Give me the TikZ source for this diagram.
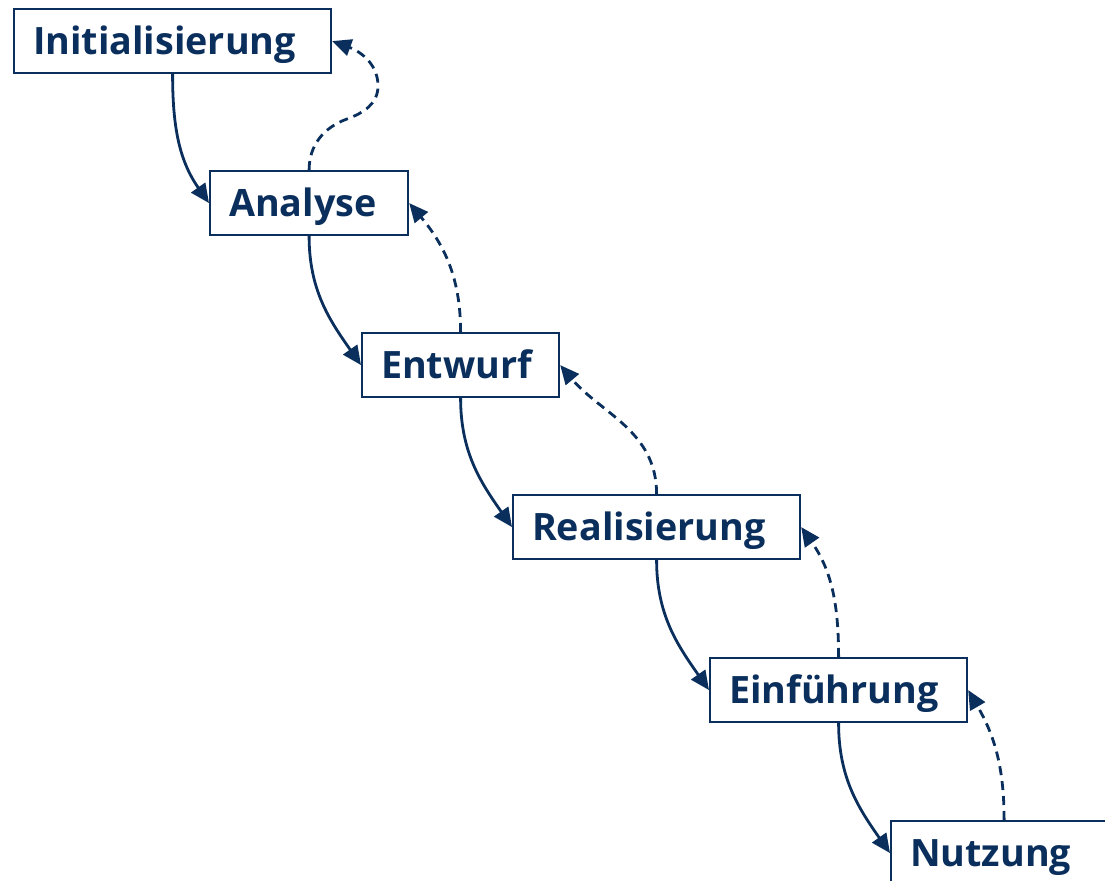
\documentclass[tikz,border=0pt]{standalone}
\usepackage{fontspec}
\setmainfont{Open Sans}
\usetikzlibrary{arrows.meta}
\definecolor{navy}{HTML}{0B2F5C}
\tikzset{
  phase/.style={draw=navy, text=navy, line width=2.2bp, inner xsep=19bp, inner ysep=0pt,
    align=left, text height=27bp, text depth=0pt, minimum height=64bp,
    anchor=north west, font=\fontsize{37.7bp}{44bp}\selectfont\bfseries},
  flow/.style={draw=navy, line width=2.8bp, -{Triangle[length=19bp,width=17bp]}},
  back/.style={flow, dash pattern=on 9bp off 6bp}
}
\begin{document}
\begin{tikzpicture}[x=1bp,y=1bp]
\useasboundingbox (0,0) rectangle (1105,881);
\begin{scope}
\clip (0,0) rectangle (1105,881);
\node[phase, text width=279bp] (init) at (13,873) {Initialisierung};
\node[phase, text width=160bp] (ana) at (209,711) {Analyse};
\node[phase, text width=159bp] (ent) at (361,549) {Entwurf};
\node[phase, text width=249bp] (rea) at (512,387) {Realisierung};
\node[phase, text width=219bp] (ein) at (709,224) {Einführung};
\node[phase, text width=188bp] (nut) at (890,61) {Nutzung};

\draw[flow] (init.south) to[out=-90,in=125] (ana.west);
\draw[flow] (ana.south) to[out=-90,in=125] (ent.west);
\draw[flow] (ent.south) to[out=-90,in=125] (rea.west);
\draw[flow] (rea.south) to[out=-90,in=125] (ein.west);
\draw[flow] (ein.south) to[out=-90,in=125] (nut.west);

\coordinate (c1) at (347,762);
\coordinate (c2) at (378,795);
\draw[back] (ana.north) to[out=90,in=200] (c1) to[out=20,in=-90] (c2) to[out=90,in=-20] (init.east);
\draw[back] (ent.north) to[out=90,in=-50] (ana.east);
\draw[back] (rea.north) to[out=90,in=-50] (ent.east);
\draw[back] (ein.north) to[out=90,in=-55] (rea.east);
\draw[back] (nut.north) to[out=90,in=-60] (ein.east);
\end{scope}
\end{tikzpicture}
\end{document}
